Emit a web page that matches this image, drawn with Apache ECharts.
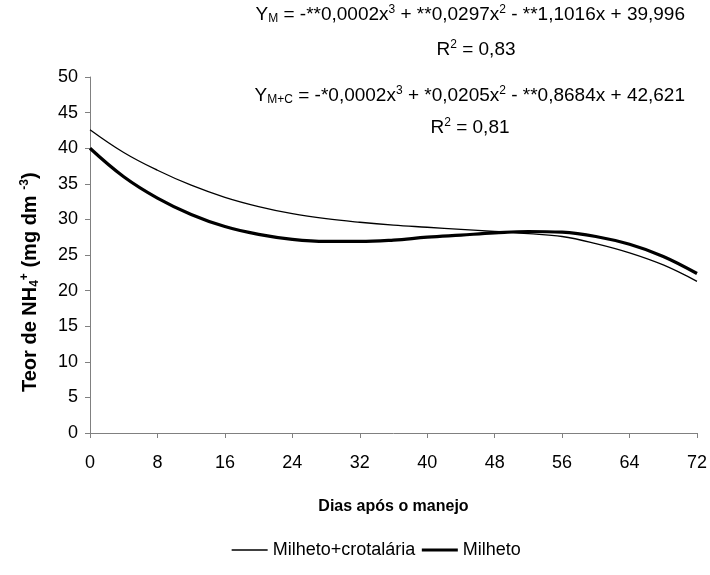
<!DOCTYPE html>
<html><head><meta charset="utf-8">
<script src="https://cdn.jsdelivr.net/npm/echarts@6/dist/echarts.min.js"></script>
<style>html,body{margin:0;padding:0;background:#fff}#c{width:710px;height:575px}</style>
</head><body><div id="c"></div>
<script>
const days = [0,4,8,12,16,20,24,28,32,36,40,44,48,52,56,60,64,68,72];
const milhetoCrot = [42.6,39.4,36.9,34.8,33.1,31.8,30.8,30.1,29.6,29.2,28.9,28.6,28.3,28.0,27.6,26.6,25.3,23.6,21.3];
const milheto = [40.0,36.0,33.0,30.7,29.0,27.9,27.2,26.9,26.9,27.1,27.5,27.8,28.1,28.3,28.2,27.6,26.5,24.8,22.4];
const xTicks = [0,8,16,24,32,40,48,56,64,72];
const seriesNames = ['Milheto+crotalária','Milheto'];

const FF = '"Liberation Sans", Arial, sans-serif';
const chart = echarts.init(document.getElementById('c'), null, {renderer:'canvas'});
const pair = a => days.map((d,i)=>[d,a[i]]);
const richEq = {
  n:{fontSize:19,fontFamily:FF,color:'#000'},
  sub:{fontSize:12,fontFamily:FF,color:'#000',verticalAlign:'bottom',padding:[9,0,0,0]},
  sup:{fontSize:12,fontFamily:FF,color:'#000',verticalAlign:'top',padding:[0,0,9,0]}
};
chart.setOption({
  animation:false,
  backgroundColor:'#fff',
  grid:{left:90,right:13,top:77,bottom:142},
  xAxis:{type:'value',min:0,max:72,interval:8,
    axisLine:{lineStyle:{color:'#808080',width:1}},
    axisTick:{show:true,length:5,lineStyle:{color:'#808080'}},
    axisLabel:{fontSize:18,fontFamily:FF,color:'#000',margin:21},
    splitLine:{show:false},
    name:'Dias após o manejo',nameLocation:'middle',nameGap:66,
    nameTextStyle:{fontSize:16,fontWeight:'bold',fontFamily:FF,color:'#000'}
  },
  yAxis:{type:'value',min:0,max:50,interval:5,
    axisLine:{show:true,lineStyle:{color:'#808080',width:1}},
    axisTick:{show:true,length:5,lineStyle:{color:'#808080'}},
    axisLabel:{fontSize:18,fontFamily:FF,color:'#000',margin:12},
    splitLine:{show:false}
  },
  legend:{top:536,left:226,itemWidth:36,itemHeight:10,itemGap:5,
    itemStyle:{opacity:0},
    textStyle:{fontSize:18,fontFamily:FF,color:'#000'},
    data:[{name:seriesNames[0],lineStyle:{width:1.3}},{name:seriesNames[1],lineStyle:{width:3.2}}]},
  series:[
    {name:seriesNames[0],type:'line',data:pair(milhetoCrot),symbol:'none',smooth:0.4,
      lineStyle:{color:'#000',width:1.3},itemStyle:{color:'#000'}},
    {name:seriesNames[1],type:'line',data:pair(milheto),symbol:'none',smooth:0.4,
      lineStyle:{color:'#000',width:3.2},itemStyle:{color:'#000'}}
  ],
  graphic:[
    {type:'text',right:25,top:4,style:{rich:richEq,
      text:'{n|Y}{sub|M}{n| = -**0,0002x}{sup|3}{n| + **0,0297x}{sup|2}{n| - **1,1016x + 39,996}'}},
    {type:'text',x:476,y:39,style:{rich:richEq,textAlign:'center',text:'{n|R}{sup|2}{n| = 0,83}'}},
    {type:'text',right:25,top:85,style:{rich:richEq,
      text:'{n|Y}{sub|M+C}{n| = -*0,0002x}{sup|3}{n| + *0,0205x}{sup|2}{n| - **0,8684x + 42,621}'}},
    {type:'text',x:470,y:117,style:{rich:richEq,textAlign:'center',text:'{n|R}{sup|2}{n| = 0,81}'}},
    {type:'text',x:19,y:392,rotation:Math.PI/2,style:{
      rich:{b:{fontSize:20,fontWeight:'bold',fontFamily:FF,color:'#000'},
            bsub:{fontSize:12,fontWeight:'bold',fontFamily:FF,color:'#000',verticalAlign:'bottom',padding:[10,0,0,0]},
            bsup:{fontSize:12,fontWeight:'bold',fontFamily:FF,color:'#000',verticalAlign:'top',padding:[0,0,10,0]}},
      text:'{b|Teor de NH}{bsub|4}{bsup|+}{b| (mg dm }{bsup|-3}{b|)}'}}
  ]
});
</script></body></html>
